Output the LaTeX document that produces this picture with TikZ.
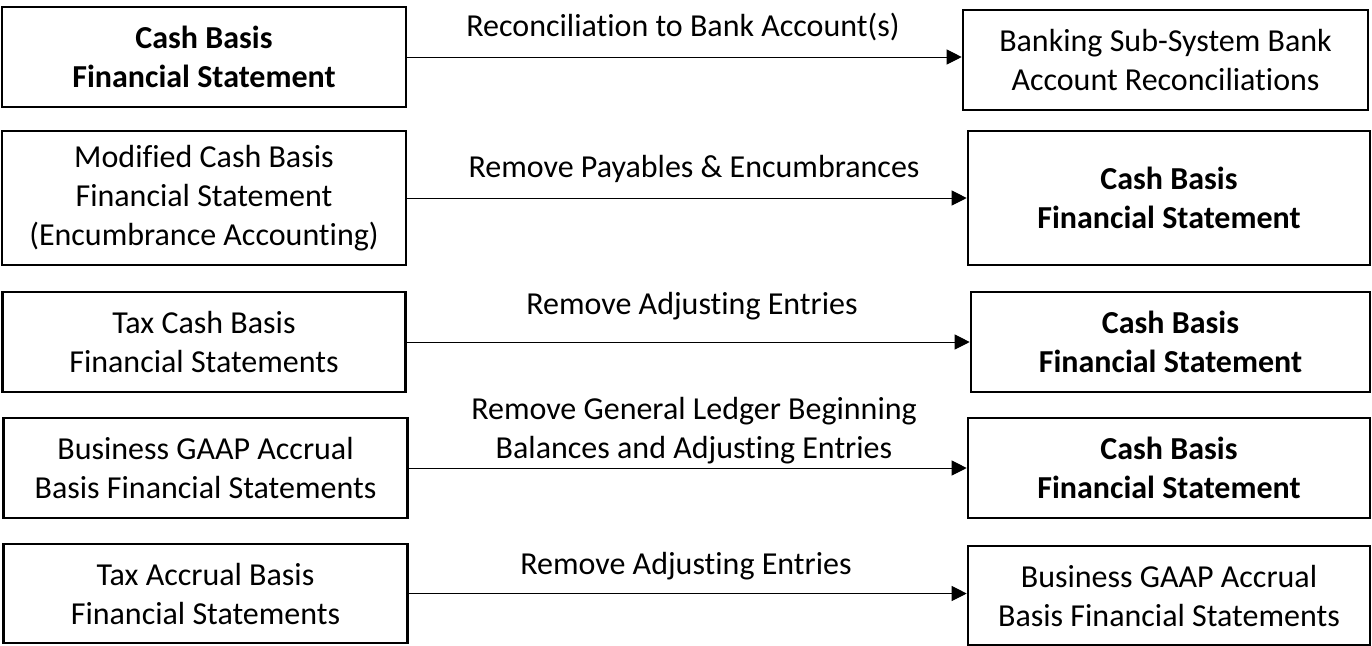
\documentclass[tikz,border=0pt]{standalone}
\usepackage{fontspec}
\setmainfont{Carlito}[Ligatures=NoCommon]
\usepackage{tikz}
\usetikzlibrary{positioning}
\usetikzlibrary{arrows.meta}

\begin{document}
\begin{tikzpicture}[
    x=0.5pt, y=-0.5pt,
    font=\fontsize{16}{19.5}\selectfont,
    mybox/.style={draw,rectangle,line width=1.3pt,inner sep=0pt,align=center,minimum height=50pt},
    mylabel/.style={align=center,inner sep=0pt},
    myarrow/.style={line width=0.5pt,-{Triangle[length=7.5pt,width=7.5pt]}}
    ]

    \useasboundingbox (0,0) rectangle (1372,645);

    \node[mybox, minimum width=202pt] (l1) at (204,57) {\textbf{Cash Basis}\\\textbf{Financial Statement}};
    \node[mybox, minimum width=202pt, minimum height=67pt] (l2) at (204,198) {Modified Cash Basis\\Financial Statement\\(Encumbrance Accounting)};
    \node[mybox, minimum width=201.5pt] (l3) at (204,342) {Tax Cash Basis\\Financial Statements};
    \node[mybox, minimum width=202pt] (l4) at (205.5,468) {Business GAAP Accrual\\Basis Financial Statements};
    \node[mybox, minimum width=202pt, minimum height=49.5pt] (l5) at (205.5,593.5) {Tax Accrual Basis\\Financial Statements};

    \node[mybox, minimum width=202.5pt] (r1) at (1165.5,60) {Banking Sub-System Bank\\Account Reconciliations};
    \node[mybox, minimum width=201pt, minimum height=67pt] (r2) at (1169,198) {\textbf{Cash Basis}\\\textbf{Financial Statement}};
    \node[mybox, minimum width=199.5pt] (r3) at (1170.5,342) {\textbf{Cash Basis}\\\textbf{Financial Statement}};
    \node[mybox, minimum width=201pt] (r4) at (1169,468) {\textbf{Cash Basis}\\\textbf{Financial Statement}};
    \node[mybox, minimum width=201pt, minimum height=49.5pt] (r5) at (1169,595.5) {Business GAAP Accrual\\Basis Financial Statements};

    \node[mylabel] (t1) at (683,27) {Reconciliation to Bank Account(s)};
    \node[mylabel] (t2) at (694,169) {Remove Payables \& Encumbrances};
    \node[mylabel] (t3) at (692,306) {Remove Adjusting Entries};
    \node[mylabel] (t4) at (694,431) {Remove General Ledger Beginning\\Balances and Adjusting Entries};
    \node[mylabel] (t5) at (686,566) {Remove Adjusting Entries};

    \path (l1.east) edge[myarrow] (l1.east -| r1.west)
    (l2.east) edge[myarrow] (l2.east -| r2.west)
    (l3.east) edge[myarrow] (l3.east -| r3.west)
    (l4.east) edge[myarrow] (l4.east -| r4.west)
    (l5.east) edge[myarrow] (l5.east -| r5.west)
    ;

\end{tikzpicture}
\end{document}
